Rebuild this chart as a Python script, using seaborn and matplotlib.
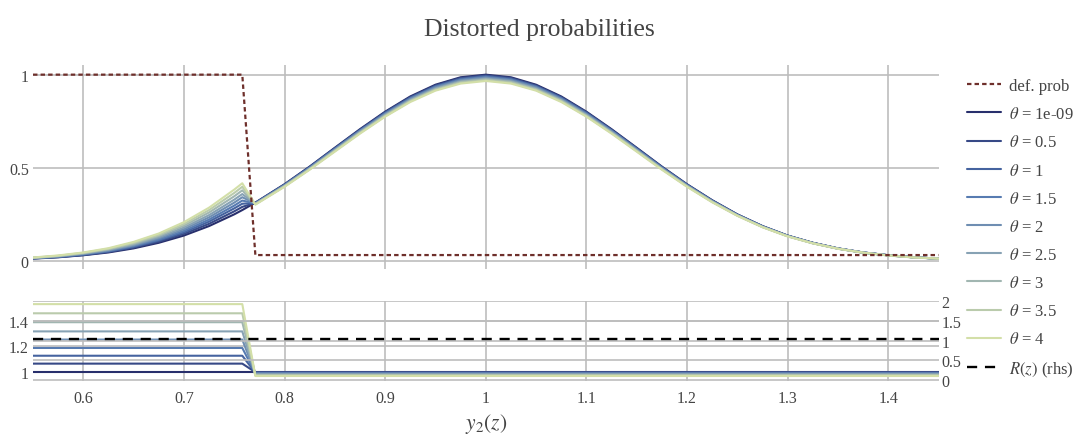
import matplotlib
matplotlib.use("Agg")
import matplotlib.pyplot as plt
from matplotlib import ticker
import seaborn as sns

sns.set_theme(style="whitegrid")
# serif text, STIX for the math bits (theta, R(z), y_2(z))
plt.rcParams["font.family"] = ["Liberation Serif", "DejaVu Serif"]
plt.rcParams["mathtext.fontset"] = "stix"
text_color = "#444444"
grid_color = "#bdbdbd"

# %%
# values
x_grid = [0.55, 0.575, 0.6, 0.625, 0.65, 0.675, 0.7, 0.725, 0.75, 0.758,
          0.771, 0.8, 0.825, 0.85, 0.875, 0.9, 0.925, 0.95, 0.975, 1.0,
          1.025, 1.05, 1.075, 1.1, 1.125, 1.15, 1.175, 1.2, 1.225, 1.25,
          1.275, 1.3, 1.325, 1.35, 1.375, 1.4, 1.425, 1.45]

theta_labels = ["1e-09", "0.5", "1", "1.5", "2", "2.5", "3", "3.5", "4"]

prob_1e09 = [0.011, 0.018, 0.029, 0.044, 0.066, 0.096, 0.135, 0.186, 0.249, 0.272,
             0.312, 0.411, 0.506, 0.607, 0.707, 0.801, 0.883, 0.946, 0.986, 1.000,
             0.986, 0.946, 0.883, 0.801, 0.707, 0.607, 0.506, 0.411, 0.325, 0.249,
             0.186, 0.135, 0.096, 0.066, 0.044, 0.029, 0.018, 0.011]
prob_05 = [0.012, 0.019, 0.030, 0.047, 0.070, 0.102, 0.144, 0.198, 0.265, 0.289,
           0.311, 0.409, 0.504, 0.605, 0.704, 0.798, 0.879, 0.942, 0.982, 0.996,
           0.982, 0.942, 0.879, 0.798, 0.704, 0.605, 0.504, 0.409, 0.324, 0.248,
           0.185, 0.134, 0.096, 0.066, 0.044, 0.029, 0.018, 0.011]
prob_1 = [0.012, 0.020, 0.032, 0.049, 0.074, 0.108, 0.152, 0.210, 0.281, 0.306,
          0.310, 0.408, 0.502, 0.602, 0.701, 0.795, 0.876, 0.938, 0.978, 0.992,
          0.978, 0.938, 0.876, 0.795, 0.701, 0.602, 0.502, 0.408, 0.322, 0.247,
          0.185, 0.134, 0.095, 0.065, 0.044, 0.029, 0.018, 0.011]
prob_15 = [0.013, 0.021, 0.034, 0.052, 0.078, 0.113, 0.160, 0.221, 0.296, 0.323,
           0.308, 0.406, 0.500, 0.600, 0.699, 0.791, 0.872, 0.935, 0.974, 0.988,
           0.974, 0.935, 0.872, 0.791, 0.699, 0.600, 0.500, 0.406, 0.321, 0.246,
           0.184, 0.133, 0.095, 0.065, 0.043, 0.029, 0.018, 0.011]
prob_2 = [0.014, 0.023, 0.036, 0.055, 0.082, 0.120, 0.169, 0.233, 0.312, 0.341,
          0.307, 0.404, 0.498, 0.597, 0.696, 0.788, 0.869, 0.931, 0.970, 0.984,
          0.970, 0.931, 0.869, 0.788, 0.696, 0.597, 0.498, 0.404, 0.320, 0.245,
          0.183, 0.133, 0.094, 0.065, 0.043, 0.029, 0.018, 0.011]
prob_25 = [0.015, 0.024, 0.038, 0.058, 0.086, 0.126, 0.178, 0.245, 0.328, 0.358,
           0.305, 0.402, 0.495, 0.594, 0.692, 0.784, 0.864, 0.926, 0.965, 0.979,
           0.965, 0.926, 0.864, 0.784, 0.692, 0.594, 0.495, 0.402, 0.318, 0.244,
           0.182, 0.132, 0.094, 0.065, 0.043, 0.028, 0.018, 0.011]
prob_3 = [0.015, 0.025, 0.040, 0.061, 0.091, 0.133, 0.188, 0.259, 0.346, 0.378,
          0.304, 0.401, 0.493, 0.592, 0.689, 0.781, 0.861, 0.922, 0.961, 0.975,
          0.961, 0.922, 0.861, 0.781, 0.689, 0.592, 0.493, 0.401, 0.317, 0.243,
          0.181, 0.132, 0.094, 0.064, 0.043, 0.028, 0.018, 0.011]
prob_35 = [0.016, 0.026, 0.042, 0.064, 0.096, 0.139, 0.197, 0.272, 0.364, 0.397,
           0.303, 0.399, 0.491, 0.589, 0.686, 0.777, 0.857, 0.918, 0.956, 0.970,
           0.956, 0.918, 0.857, 0.777, 0.686, 0.589, 0.491, 0.399, 0.315, 0.242,
           0.180, 0.131, 0.093, 0.064, 0.043, 0.028, 0.017, 0.011]
prob_4 = [0.017, 0.028, 0.044, 0.067, 0.101, 0.146, 0.207, 0.285, 0.382, 0.416,
          0.301, 0.397, 0.489, 0.586, 0.683, 0.774, 0.853, 0.914, 0.952, 0.966,
          0.952, 0.914, 0.853, 0.774, 0.683, 0.586, 0.489, 0.397, 0.314, 0.241,
          0.180, 0.130, 0.093, 0.064, 0.043, 0.028, 0.017, 0.011]
prob_curves = [prob_1e09, prob_05, prob_1, prob_15, prob_2, prob_25, prob_3, prob_35, prob_4]

# default probability (dotted, top panel)
def_prob_x = [0.55, 0.758, 0.771, 1.45]
def_prob = [1.0, 1.0, 0.03, 0.03]

# distortion ratio per theta (bottom panel): level before / after the jump
ratio_x = [0.55, 0.758, 0.771, 1.45]
ratio_before = [1.0, 1.063, 1.125, 1.186, 1.252, 1.316, 1.388, 1.458, 1.53]
ratio_after = [1.0, 0.996, 0.992, 0.988, 0.984, 0.979, 0.975, 0.970, 0.966]

# R(z) on the right hand axis
r_x = [0.55, 1.45]
r_vals = [1.03, 1.03]

colors = sns.blend_palette(["#282f6c", "#4f74b0", "#8fa8b4", "#d3dfa8"], len(theta_labels))

# %%
fig = plt.figure(figsize=(10.79, 4.35), dpi=100)
ax_top = fig.add_axes([0.0306, 0.3793, 0.8392, 0.469])
ax_bot = fig.add_axes([0.0306, 0.1225, 0.8392, 0.184])

sns.lineplot(x=def_prob_x, y=def_prob, ax=ax_top, color="#6e2f2b", lw=1.6,
             label="def. prob", zorder=5)
ax_top.get_lines()[-1].set_dashes((2, 1.4))

for lab, vals, col in zip(theta_labels, prob_curves, colors):
    sns.lineplot(x=x_grid, y=vals, ax=ax_top, color=col, lw=1.5,
                 label=rf"$\theta$ = {lab}")

for lo, hi, col in zip(ratio_before, ratio_after, colors):
    sns.lineplot(x=ratio_x, y=[lo, lo, hi, hi], ax=ax_bot, color=col, lw=1.5)

ax_r = ax_bot.twinx()
sns.lineplot(x=r_x, y=r_vals, ax=ax_r, color="black", lw=1.7, label=r"$R(z)$ (rhs)")
ax_r.get_lines()[-1].set_dashes((4.3, 3.3))

# %%
fmt = ticker.FuncFormatter(lambda v, p: f"{v:g}")
for ax in (ax_top, ax_bot, ax_r):
    if ax.get_legend() is not None:
        ax.get_legend().remove()
    ax.set_xlim(0.55, 1.45)
    for s in ax.spines.values():
        s.set_visible(False)
    ax.set_facecolor("none")
    ax.grid(True, color=grid_color, lw=1.2)
    ax.tick_params(length=0, labelsize=11.5, labelcolor=text_color, pad=3)
    ax.xaxis.set_major_locator(ticker.MultipleLocator(0.1))
    ax.xaxis.set_major_formatter(fmt)
    ax.yaxis.set_major_formatter(fmt)
    ax.set_xlabel("")
    ax.set_ylabel("")

ax_top.set_ylim(-0.045, 1.052)
ax_top.set_yticks([0, 0.5, 1])
ax_top.tick_params(axis="x", labelbottom=False)

ax_bot.set_ylim(0.929, 1.557)
ax_bot.set_yticks([1, 1.2, 1.4])
ax_bot.tick_params(axis="x", pad=7)

ax_r.set_ylim(-0.026, 2.02)
ax_r.set_yticks([0, 0.5, 1, 1.5, 2])
ax_r.grid(axis="x", visible=False)
ax_r.tick_params(axis="y", pad=2)

ax_bot.set_xlabel(r"$y_2(z)$", fontsize=15.5, color=text_color, labelpad=3)

fig.text(0.5, 1 - 30 / 435, "Distorted probabilities", ha="center", va="center",
         fontsize=18.5, color=text_color)

handles, labels = ax_top.get_legend_handles_labels()
h_r, l_r = ax_r.get_legend_handles_labels()
leg = fig.legend(handles + h_r, labels + l_r, loc="upper left",
                 bbox_to_anchor=(967 / 1079, 1 - 79 / 435), frameon=False,
                 borderpad=0, borderaxespad=0, fontsize=12, handlelength=2.05,
                 handletextpad=0.45, labelspacing=0.73)
for t in leg.get_texts():
    t.set_color(text_color)

fig.savefig("out.png", dpi=100)
